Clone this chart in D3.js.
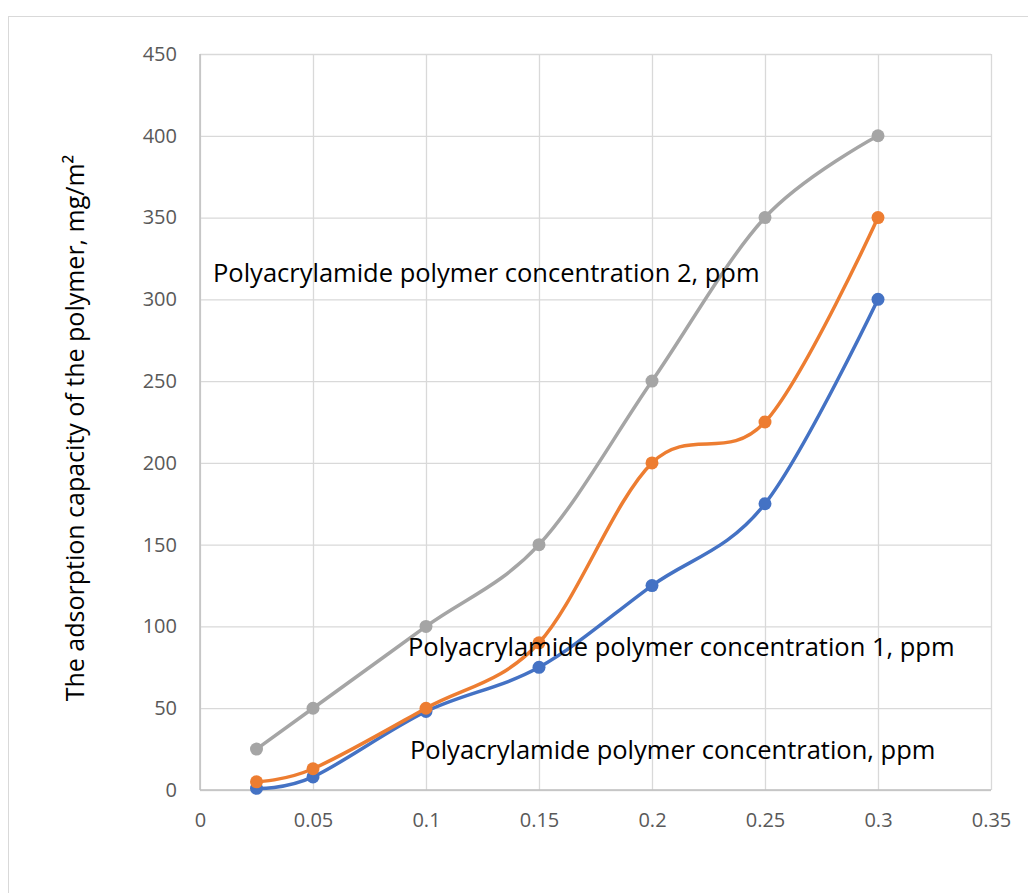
<!DOCTYPE html>
<html>
<head>
<meta charset="utf-8">
<script src="https://cdn.jsdelivr.net/npm/d3@7"></script>
<style>
  body { margin: 0; background: #fff; }
  svg text { font-family: "Open Sans", "Noto Sans", sans-serif; }
</style>
</head>
<body>
<div id="chart"></div>
<script>
const concentrations = [0.025, 0.05, 0.1, 0.15, 0.2, 0.25, 0.3];
const seriesBase = [1, 8, 48, 75, 125, 175, 300];
const seriesOne = [5, 13, 50, 90, 200, 225, 350];
const seriesTwo = [25, 50, 100, 150, 250, 350, 400];
const xTicks = [0, 0.05, 0.1, 0.15, 0.2, 0.25, 0.3, 0.35];
const yTicks = [0, 50, 100, 150, 200, 250, 300, 350, 400, 450];

const series = [
  { name: "Polyacrylamide polymer concentration, ppm", values: seriesBase, color: "#4472C4" },
  { name: "Polyacrylamide polymer concentration 1, ppm", values: seriesOne, color: "#ED7D31" },
  { name: "Polyacrylamide polymer concentration 2, ppm", values: seriesTwo, color: "#A5A5A5" }
];

const width = 1028, height = 893;
const margin = { top: 54, right: 37, bottom: 103, left: 200 };
const innerW = width - margin.left - margin.right;
const innerH = height - margin.top - margin.bottom;

const svg = d3.select("#chart").append("svg")
  .attr("width", width)
  .attr("height", height);

// chart frame
svg.append("rect")
  .attr("x", 8.5).attr("y", 16.5)
  .attr("width", width).attr("height", height)
  .attr("fill", "none")
  .attr("stroke", "#d9d9d9");

const g = svg.append("g").attr("transform", `translate(${margin.left},${margin.top})`);

const x = d3.scaleLinear().domain([0, 0.35]).range([0, innerW]);
const y = d3.scaleLinear().domain([0, 450]).range([innerH, 0]);

// gridlines
g.append("g")
  .call(d3.axisLeft(y).tickValues(yTicks).tickSize(-innerW).tickFormat(d => d))
  .call(a => a.select(".domain").remove())
  .call(a => a.selectAll("line").attr("stroke", "#d9d9d9").attr("stroke-width", 1.3))
  .call(a => a.selectAll("text").attr("x", -23).style("font-size", "20px").attr("fill", "#595959"));

g.append("g")
  .attr("transform", `translate(0,${innerH})`)
  .call(d3.axisBottom(x).tickValues(xTicks).tickSize(-innerH).tickFormat(d => d))
  .call(a => a.select(".domain").remove())
  .call(a => a.selectAll("line").attr("stroke", "#d9d9d9").attr("stroke-width", 1.3))
  .call(a => a.selectAll("text").attr("y", 23).style("font-size", "20px").attr("fill", "#595959"));

// axis border lines
g.append("line").attr("x1", 0).attr("x2", 0).attr("y1", 0).attr("y2", innerH)
  .attr("stroke", "#bfbfbf").attr("stroke-width", 1.5);
g.append("line").attr("x1", 0).attr("x2", innerW).attr("y1", innerH).attr("y2", innerH)
  .attr("stroke", "#bfbfbf").attr("stroke-width", 1.5);

// y axis title
svg.append("text")
  .attr("transform", "translate(84,428) rotate(-90)")
  .attr("text-anchor", "middle")
  .style("font-size", "25px")
  .attr("fill", "#000")
  .text("The adsorption capacity of the polymer, mg/m²");

const line = d3.line()
  .x((d, i) => x(concentrations[i]))
  .y(d => y(d))
  .curve(d3.curveCardinal.tension(0));

series.forEach(s => {
  g.append("path")
    .datum(s.values)
    .attr("fill", "none")
    .attr("stroke", s.color)
    .attr("stroke-width", 3.5)
    .attr("stroke-linecap", "round")
    .attr("d", line);
  g.selectAll(null)
    .data(s.values)
    .join("circle")
    .attr("cx", (d, i) => x(concentrations[i]))
    .attr("cy", d => y(d))
    .attr("r", 6.5)
    .attr("fill", s.color);
});

// data labels as in reference
const labels = [
  { text: series[2].name, x: 213, y: 282 },
  { text: series[1].name, x: 408, y: 656 },
  { text: series[0].name, x: 410, y: 759 }
];
svg.selectAll(".lbl")
  .data(labels)
  .join("text")
  .attr("class", "lbl")
  .attr("x", d => d.x)
  .attr("y", d => d.y)
  .style("font-size", "25.5px")
  .attr("fill", "#000")
  .text(d => d.text);
</script>
</body>
</html>
